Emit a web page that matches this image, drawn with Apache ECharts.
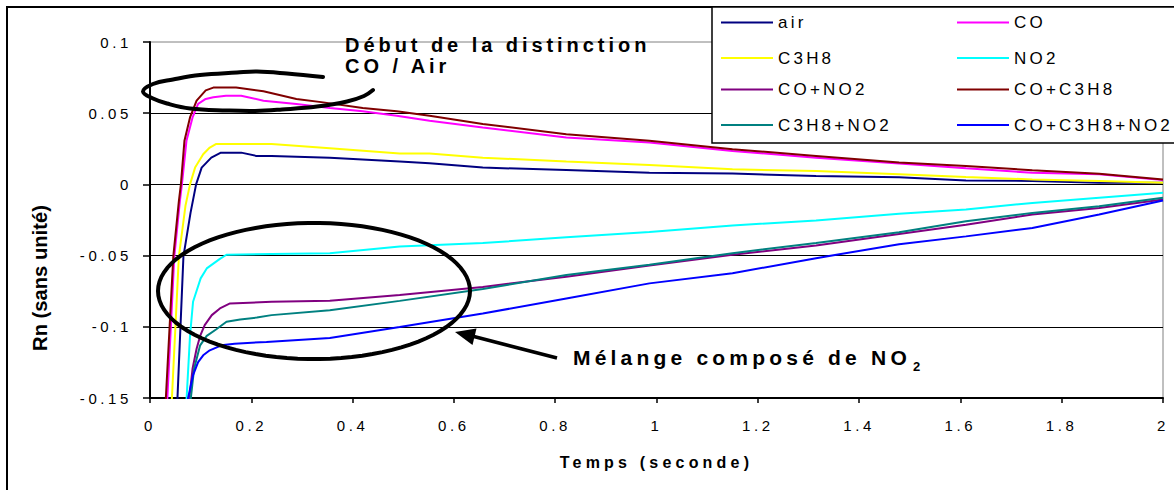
<!DOCTYPE html>
<html><head><meta charset="utf-8">
<script src="https://cdn.jsdelivr.net/npm/echarts@6/dist/echarts.min.js"></script>
<style>
html,body{margin:0;padding:0;background:#fff;}
#c{width:1174px;height:490px;}
#c text[style*="15px"]{letter-spacing:3.6px;}
#c text[style*="17px"]{letter-spacing:3.2px;}
#c text[style*="16px"]{letter-spacing:4.2px;}
#c text[style*="20px"]{letter-spacing:3.95px;}
#c text[style*="21px"]{letter-spacing:4.2px;}
</style></head><body><div id="c"></div>
<script>
// ---- data ----
const seriesNames = ['air', 'CO', 'C3H8', 'NO2', 'CO+NO2', 'CO+C3H8', 'C3H8+NO2', 'CO+C3H8+NO2'];
const seriesColors = ['#000080', '#FF00FF', '#FFFF00', '#00FFFF', '#800080', '#800000', '#008080', '#0000FF'];

const air = [[0.051,-0.17],[0.054,-0.152],[0.066,-0.0506],[0.080,-0.02],[0.091,0.0],[0.102,0.0118],[0.121,0.0188],[0.14,0.0223],[0.18,0.0223],[0.21,0.020],[0.24,0.020],[0.355,0.0188],[0.493,0.016],[0.552,0.0148],[0.657,0.0118],[0.822,0.0101],[0.986,0.0082],[1.15,0.0076],[1.315,0.0059],[1.479,0.005],[1.611,0.0028],[1.742,0.0024],[1.874,0.0012],[2.0,0.0012]];
const co = [[0.030,-0.17],[0.034,-0.152],[0.048,-0.0506],[0.059,-0.0118],[0.063,0.0],[0.072,0.0306],[0.084,0.047],[0.095,0.0565],[0.11,0.060],[0.125,0.0612],[0.15,0.0623],[0.18,0.0623],[0.224,0.0588],[0.289,0.0565],[0.355,0.0537],[0.42,0.0513],[0.487,0.0482],[0.552,0.0447],[0.657,0.040],[0.822,0.0329],[0.986,0.0294],[1.15,0.0235],[1.315,0.0188],[1.479,0.0146],[1.611,0.0113],[1.742,0.0082],[1.874,0.0071],[2.0,0.003]];
const c3h8 = [[0.040,-0.17],[0.043,-0.152],[0.057,-0.0506],[0.070,-0.015],[0.079,0.0],[0.089,0.0118],[0.105,0.0212],[0.118,0.0259],[0.13,0.0283],[0.24,0.0283],[0.355,0.0254],[0.493,0.0217],[0.552,0.0217],[0.657,0.0188],[0.822,0.016],[0.986,0.0137],[1.15,0.0106],[1.315,0.0094],[1.479,0.0071],[1.611,0.0052],[1.742,0.0035],[1.874,0.0024],[2.0,0.0012]];
const no2 = [[0.069,-0.17],[0.072,-0.152],[0.079,-0.1064],[0.085,-0.0824],[0.10,-0.066],[0.112,-0.059],[0.138,-0.0523],[0.151,-0.0494],[0.24,-0.0488],[0.355,-0.0483],[0.493,-0.0436],[0.657,-0.0412],[0.822,-0.0371],[0.986,-0.0335],[1.15,-0.0288],[1.315,-0.0253],[1.479,-0.0206],[1.611,-0.0177],[1.742,-0.013],[1.874,-0.0094],[2.0,-0.0059]];
const coNo2 = [[0.074,-0.17],[0.077,-0.152],[0.084,-0.1295],[0.092,-0.1154],[0.099,-0.1064],[0.108,-0.0988],[0.122,-0.0918],[0.138,-0.0871],[0.158,-0.0836],[0.24,-0.0824],[0.355,-0.0817],[0.493,-0.0777],[0.657,-0.072],[0.822,-0.0648],[0.986,-0.057],[1.15,-0.0494],[1.315,-0.0429],[1.479,-0.0348],[1.611,-0.0283],[1.742,-0.0212],[1.874,-0.0165],[2.0,-0.0106]];
const coC3h8 = [[0.028,-0.17],[0.031,-0.152],[0.046,-0.0506],[0.057,-0.0118],[0.061,0.0],[0.068,0.0306],[0.079,0.047],[0.092,0.0588],[0.11,0.066],[0.125,0.0680],[0.17,0.0680],[0.224,0.0654],[0.289,0.060],[0.342,0.0576],[0.42,0.0537],[0.487,0.0513],[0.552,0.0482],[0.657,0.0424],[0.822,0.0353],[0.986,0.0306],[1.15,0.0247],[1.315,0.020],[1.479,0.0153],[1.611,0.013],[1.742,0.0099],[1.874,0.0075],[2.0,0.0035]];
const c3h8No2 = [[0.077,-0.17],[0.080,-0.152],[0.087,-0.1295],[0.099,-0.113],[0.112,-0.1064],[0.131,-0.1017],[0.151,-0.0965],[0.178,-0.0948],[0.211,-0.0935],[0.24,-0.0918],[0.355,-0.0883],[0.493,-0.0818],[0.657,-0.0735],[0.822,-0.0636],[0.986,-0.0565],[1.15,-0.0483],[1.315,-0.0412],[1.479,-0.0336],[1.611,-0.0259],[1.742,-0.020],[1.874,-0.0153],[2.0,-0.0094]];
const coC3h8No2 = [[0.071,-0.17],[0.074,-0.152],[0.085,-0.134],[0.095,-0.1248],[0.105,-0.120],[0.118,-0.1165],[0.141,-0.113],[0.167,-0.1119],[0.23,-0.1106],[0.355,-0.1078],[0.493,-0.1001],[0.657,-0.0907],[0.822,-0.0801],[0.986,-0.0695],[1.15,-0.0624],[1.315,-0.0518],[1.479,-0.042],[1.611,-0.0365],[1.742,-0.0306],[1.874,-0.0212],[2.0,-0.0113]];
const seriesData = [air, co, c3h8, no2, coNo2, coC3h8, c3h8No2, coC3h8No2];

const xAxisTitle = 'Temps (seconde)';
const yAxisTitle = 'Rn (sans unité)';
const noteTop1 = 'Début de la distinction';
const noteTop2 = 'CO / Air';
const noteBottom = 'Mélange composé de NO';
const noteBottomSub = '2';

// ---- chart ----
const FONT = '"Liberation Sans", Arial, sans-serif';
const chart = echarts.init(document.getElementById('c'), null, {renderer: 'svg'});

const legendCols = [721, 957];
const legendRows = [24, 59.5, 91, 126.5];
const legends = seriesNames.map((n, i) => ({
  data: [n],
  left: legendCols[i % 2],
  top: legendRows[Math.floor(i / 2)] - 10,
  icon: 'rect', itemWidth: 52, itemHeight: 2, padding: 0, itemGap: 0,
  selectedMode: false, z: 20,
  textStyle: {color: '#000', fontSize: 17, fontFamily: FONT}
}));

const series = seriesNames.map((n, i) => ({
  name: n, type: 'line', data: seriesData[i], showSymbol: false, symbol: 'none',
  lineStyle: {color: seriesColors[i], width: 2}, itemStyle: {color: seriesColors[i]},
  clip: true, z: 2
}));

// hand-drawn annotation shapes (pixel positions, not data)
const bottomEllipse = [];
for (let k = 0; k < 90; k++) {
  const a = k / 90 * Math.PI * 2;
  bottomEllipse.push([314 + 156 * Math.cos(a), 291 + 68 * Math.sin(a)]);
}
const topEllipse = [[323,77],[287,73.5],[257,71.5],[237,72.5],[200,75],[173,79.5],[153,84],[143,91.5],[153,98.5],[167,103.5],[190,108.5],[227,110.5],[255,111],[282,109.5],[317,106.5],[347,101.5],[364,96],[373,90]];

const option = {
  animation: false,
  backgroundColor: '#fff',
  textStyle: {fontFamily: FONT},
  grid: {left: 150, right: 11, top: 42, bottom: 92, show: true, borderColor: '#808080', borderWidth: 1, backgroundColor: 'transparent'},
  legend: legends,
  xAxis: {
    type: 'value', min: 0, max: 2, interval: 0.2,
    name: xAxisTitle, nameLocation: 'middle', nameGap: 56,
    nameTextStyle: {fontSize: 16, fontWeight: 'bold', color: '#000', fontFamily: FONT},
    axisLine: {show: true, onZero: false, lineStyle: {color: '#000', width: 2}},
    axisTick: {show: true, length: 5, lineStyle: {color: '#000', width: 1.5}},
    axisLabel: {fontSize: 15, color: '#000', margin: 20, fontFamily: FONT, formatter: v => String(+v.toFixed(1))},
    splitLine: {show: false}
  },
  yAxis: {
    type: 'value', min: -0.15, max: 0.1, interval: 0.05,
    name: yAxisTitle, nameLocation: 'middle', nameRotate: 90, nameGap: 100,
    nameTextStyle: {fontSize: 20.2, fontWeight: 'bold', color: '#000', fontFamily: FONT, padding: [0, 116, 0, 0]},
    axisLine: {show: true, onZero: false, lineStyle: {color: '#000', width: 2}},
    axisTick: {show: true, length: 7, lineStyle: {color: '#000', width: 1.5}},
    axisLabel: {fontSize: 15, color: '#000', margin: 18, fontFamily: FONT, formatter: v => String(+v.toFixed(2))},
    splitLine: {show: true, showMaxLine: false, showMinLine: false, lineStyle: {color: '#000', width: 1}}
  },
  series: series,
  graphic: [
    {type: 'rect', z: 0, silent: true, shape: {x: 7, y: 7, width: 1300, height: 700}, style: {fill: 'none', stroke: '#000', lineWidth: 2}},
    {type: 'rect', z: 10, silent: true, shape: {x: 712, y: 7, width: 500, height: 136}, style: {fill: '#fff', stroke: '#000', lineWidth: 1.5}},
    {type: 'polyline', z: 30, silent: true, shape: {points: topEllipse, smooth: 0.4}, style: {fill: 'none', stroke: '#000', lineWidth: 4, lineCap: 'round'}},
    {type: 'polygon', z: 30, silent: true, shape: {points: bottomEllipse}, style: {fill: 'none', stroke: '#000', lineWidth: 4}},
    {type: 'line', z: 30, silent: true, shape: {x1: 557, y1: 358, x2: 472, y2: 336}, style: {stroke: '#000', lineWidth: 3.5}},
    {type: 'polygon', z: 30, silent: true, shape: {points: [[455,332],[476.5,328.5],[472.5,345]]}, style: {fill: '#000'}},
    {type: 'text', z: 30, silent: true, x: 345, y: 44.5, style: {text: noteTop1, font: 'bold 20px ' + FONT, fill: '#000', textVerticalAlign: 'middle'}},
    {type: 'text', z: 30, silent: true, x: 345, y: 65.5, style: {text: noteTop2, font: 'bold 20px ' + FONT, fill: '#000', textVerticalAlign: 'middle'}},
    {type: 'text', z: 30, silent: true, x: 573, y: 357, style: {text: noteBottom, font: 'bold 21px ' + FONT, fill: '#000', textVerticalAlign: 'middle'}},
    {type: 'text', z: 30, silent: true, x: 913, y: 366, style: {text: noteBottomSub, font: 'bold 13px ' + FONT, fill: '#000', textVerticalAlign: 'middle'}}
  ]
};
chart.setOption(option);
</script></body></html>
